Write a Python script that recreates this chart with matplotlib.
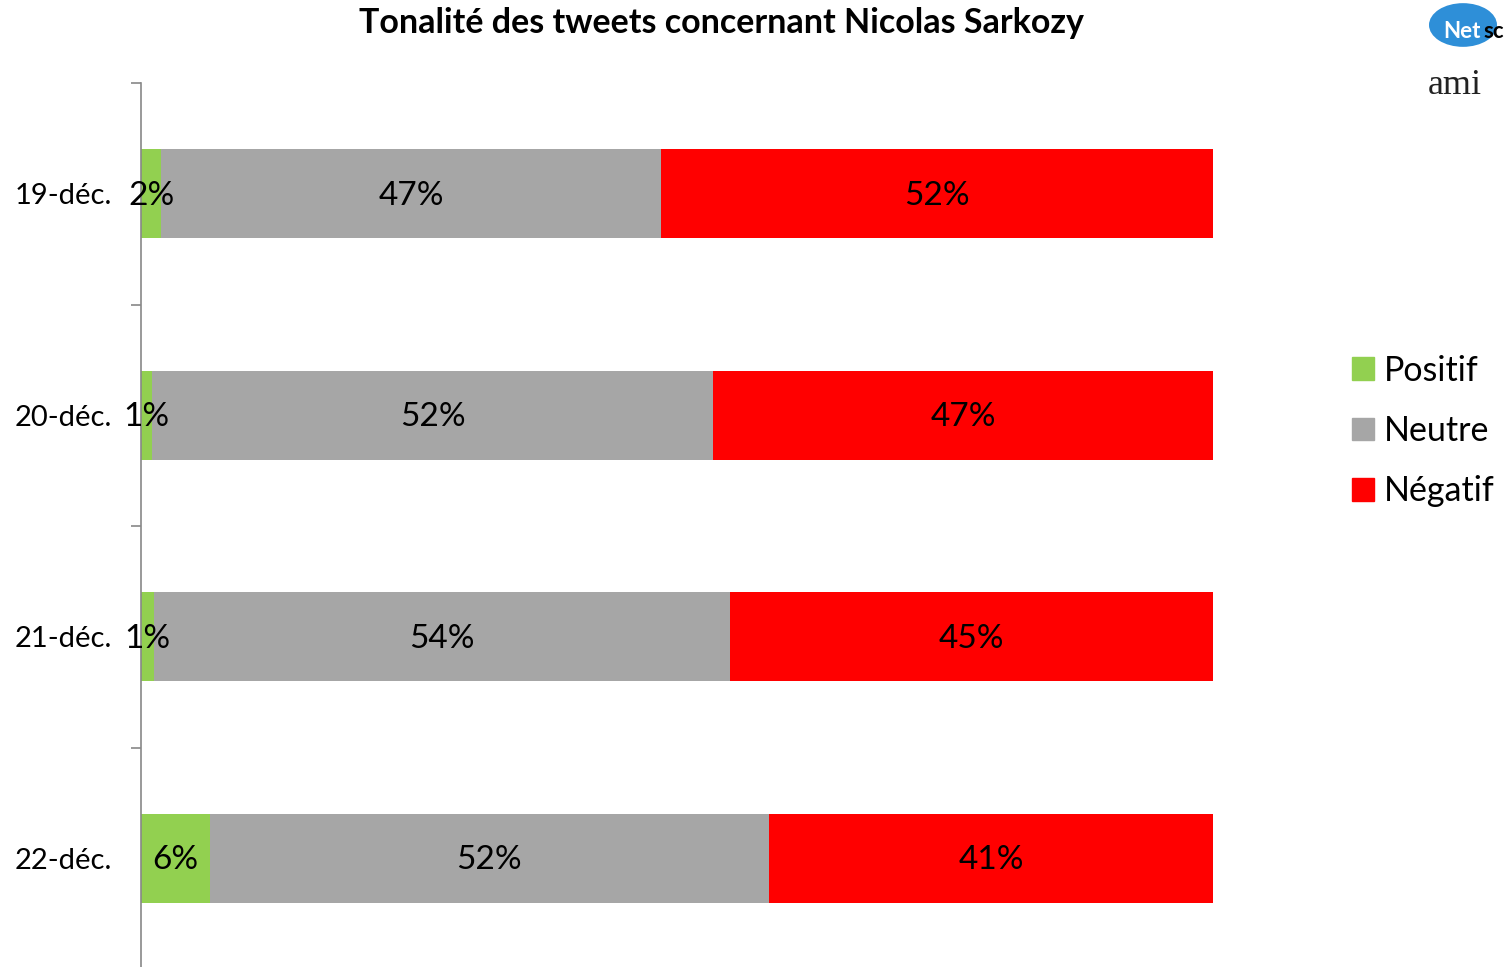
import matplotlib.pyplot as plt
from matplotlib.patches import Circle, Patch

categories = ['19-déc.', '20-déc.', '21-déc.', '22-déc.']
positif = [1.9, 1.0, 1.2, 6.4]
neutre = [46.6, 52.4, 53.7, 52.2]
negatif = [51.5, 46.6, 45.1, 41.4]
series = ['Positif', 'Neutre', 'Négatif']
colors = ['#92D050', '#A6A6A6', '#FF0000']

plt.rcParams['font.family'] = ['Lato', 'DejaVu Sans']

fig = plt.figure(figsize=(15.05, 9.67), dpi=100)
ax = fig.add_axes([141 / 1505, 1 - 969 / 967, 1072 / 1505, 886 / 967])

y = list(range(len(categories)))
left = [0] * len(categories)
for vals, name, col in zip([positif, neutre, negatif], series, colors):
    ax.barh(y, vals, left=left, height=0.4, color=col, label=name)
    for i, v in enumerate(vals):
        ax.text(left[i] + v / 2, y[i] + 0.01, '%.0f%%' % v, ha='center', va='center',
                fontsize=24, color='black')
    left = [l + v for l, v in zip(left, vals)]

ax.set_xlim(0, 100)
ax.set_ylim(3.5, -0.5)
ax.set_xticks([])
ax.set_yticks([-0.5, 0.5, 1.5, 2.5, 3.5])
ax.set_yticklabels([])
ax.set_yticks(y, minor=True)
ax.set_yticklabels(categories, minor=True, fontsize=21)
ax.tick_params(axis='y', which='major', length=7, color='#888888', width=1.2)
ax.tick_params(axis='y', which='minor', length=0, pad=21)
for s in ['top', 'right', 'bottom']:
    ax.spines[s].set_visible(False)
ax.spines['left'].set_color('#888888')
ax.spines['left'].set_linewidth(1.2)

fig.text(721 / 1505, 1 - 23 / 967, 'Tonalité des tweets concernant Nicolas Sarkozy',
         ha='center', va='center', fontsize=24.5, fontweight='bold')

handles = [Patch(color=c) for c in colors]
fig.legend(handles, series, loc='center left', bbox_to_anchor=(1321 / 1505, 1 - 431 / 967),
           frameon=False, fontsize=24.5, handlelength=0.65, handleheight=0.65,
           handletextpad=0.3, labelspacing=0.83)

# logo
fig.patches.append(Circle((1463 / 1505, 1 - 25 / 967), 34 / 1505, transform=fig.transFigure,
                          facecolor='#2E8FD8', edgecolor='none'))
fig.text(1443 / 1505, 1 - 32 / 967, 'Net', color='white', fontsize=16, fontweight='bold',
         ha='left', va='center')
fig.text(1483 / 1505, 1 - 32 / 967, 'sc', color='black', fontsize=16, fontweight='bold',
         ha='left', va='center')
fig.text(1428 / 1505, 1 - 86 / 967, 'ami', color='#222222', fontsize=26,
         family='Liberation Serif', ha='left', va='center')

fig.savefig('out.png', dpi=100)
